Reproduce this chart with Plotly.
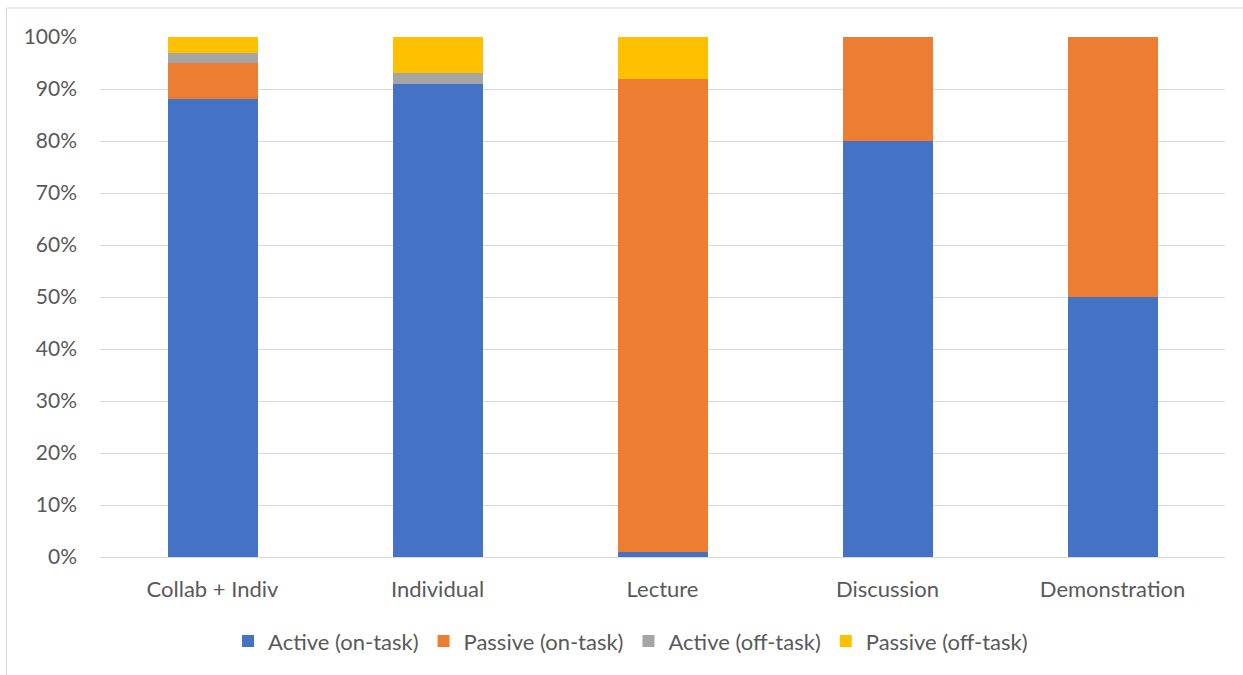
import plotly.graph_objects as go

categories = ["Collab + Indiv", "Individual", "Lecture", "Discussion", "Demonstration"]
active_on = [88, 91, 1, 80, 50]
passive_on = [7, 0, 91, 20, 50]
active_off = [2, 2, 0, 0, 0]
passive_off = [3, 7, 8, 0, 0]

series = [
    ("Active (on-task)", active_on, "#4472C4"),
    ("Passive (on-task)", passive_on, "#ED7D31"),
    ("Active (off-task)", active_off, "#A5A5A5"),
    ("Passive (off-task)", passive_off, "#FFC000"),
]

font_family = "Lato, Open Sans, Liberation Sans, sans-serif"
text_color = "#595959"

fig = go.Figure()
for name, vals, color in series:
    fig.add_trace(go.Bar(
        x=categories, y=[v / 100 for v in vals], name=name,
        marker=dict(color=color, line=dict(width=0)),
    ))

fig.update_layout(
    barmode="stack",
    bargap=0.6,
    width=1243, height=675,
    margin=dict(l=100, r=18, t=37, b=118),
    plot_bgcolor="white", paper_bgcolor="white",
    font=dict(family=font_family, size=21, color=text_color),
    legend=dict(
        orientation="h", x=0.4716, xanchor="center", y=-0.162, yanchor="middle",
        font=dict(size=22, color=text_color), itemwidth=30, traceorder="normal",
    ),
    xaxis=dict(showline=False, ticks="", ticklabelstandoff=17,
               tickfont=dict(size=22, color=text_color)),
    yaxis=dict(
        range=[0, 1], tickformat=".0%", dtick=0.1,
        showgrid=True, gridcolor="#D9D9D9", gridwidth=1,
        zeroline=True, zerolinecolor="#D9D9D9", zerolinewidth=1,
        ticks="", ticklabelstandoff=22,
        tickfont=dict(size=21, color=text_color),
    ),
    shapes=[
        dict(type="line", xref="paper", yref="paper", x0=-0.0831, x1=1.02, y0=1.0558, y1=1.0558,
             line=dict(color="#D9D9D9", width=1)),
        dict(type="line", xref="paper", yref="paper", x0=-0.0831, x1=-0.0831, y0=1.0558, y1=-0.25,
             line=dict(color="#D9D9D9", width=1)),
    ],
)

fig.write_html("out.html")
